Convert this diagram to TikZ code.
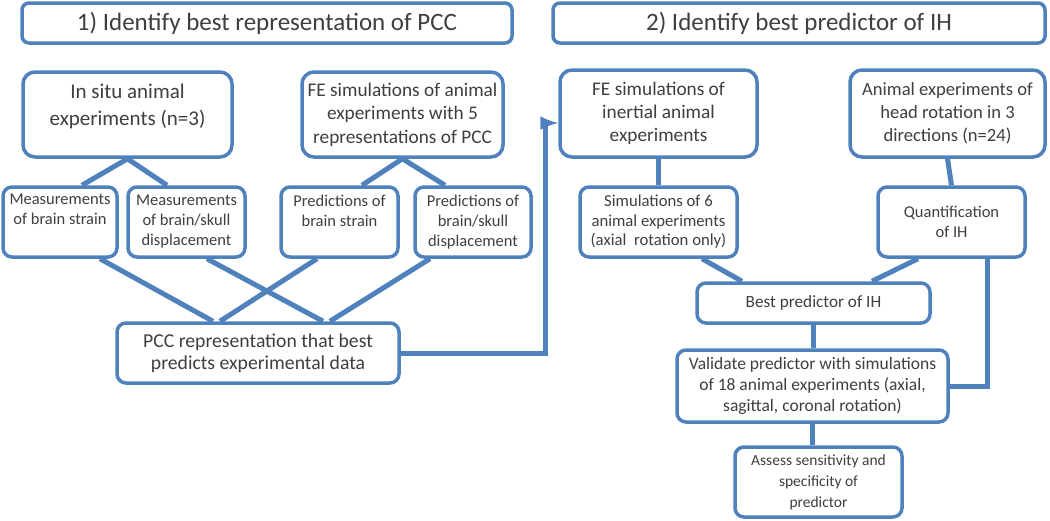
\documentclass[tikz,border=0pt]{standalone}
\usepackage{fontspec}
\setmainfont{Carlito}
\usepackage{tikz}
\usetikzlibrary{arrows,calc}
\definecolor{boxblue}{HTML}{4F81BD}
\definecolor{txtgray}{HTML}{3F3F3F}
\newcommand{\fsz}[2]{\fontsize{#1}{#2}\selectfont}

\begin{document}
\begin{tikzpicture}[x=1pt,y=-1pt,
  box/.style={draw=boxblue,line width=3.5pt,rounded corners=9pt,fill=white,
    text=txtgray,align=center,inner sep=1pt},
  titlebox/.style={box,rounded corners=7pt,font=\fsz{25}{29}},
  bigbox/.style={box,rounded corners=12pt,font=\fsz{19.3}{23.5}},
  smallbox/.style={box,rounded corners=9pt,font=\fsz{16.5}{20}},
  link/.style={draw=boxblue,line width=5pt}]
\useasboundingbox (0,0) rectangle (1050,520);

% 1) representation of PCC
\node[titlebox,minimum width=490pt,minimum height=40pt] (title1) at (267,23) {1) Identify best representation of PCC};
\node[bigbox,font=\fsz{21}{27},minimum width=209pt,minimum height=85pt] (insitu) at (127.5,114.5) {In situ animal\\experiments (n=3)\\[-8pt]\mbox{}};
\node[bigbox,minimum width=201pt,minimum height=85pt] (fesim) at (402.5,114.5) {FE simulations of animal\\experiments with 5\\representations of PCC};
\node[smallbox,minimum width=114pt,minimum height=70pt] (measstrain) at (60,222) {Measurements\\of brain strain\\\strut};
\node[smallbox,minimum width=117pt,minimum height=70pt] (measdisp) at (186.5,222) {Measurements\\of brain/skull\\displacement};
\node[smallbox,minimum width=117pt,minimum height=70pt] (predstrain) at (339.5,222) {Predictions of\\brain strain\\[-3pt]\strut};
\node[smallbox,minimum width=116pt,minimum height=70pt] (preddisp) at (473,222) {Predictions of\\brain/skull\\displacement};
\node[box,font=\fsz{19.7}{21.5},minimum width=282pt,minimum height=60pt] (pcc) at (258,353) {PCC representation that best\\predicts experimental data};

\draw[link] (insitu.south) -- ([xshift=22pt]measstrain.north);
\draw[link] (insitu.south) -- ([xshift=-19.5pt]measdisp.north);
\draw[link] (fesim.south) -- ([xshift=22.5pt]predstrain.north);
\draw[link] (fesim.south) -- ([xshift=-28pt]preddisp.north);
\draw[link] ([xshift=40pt]measstrain.south) -- ([xshift=-45pt]pcc.north);
\draw[link] ([xshift=20.5pt]measdisp.south) -- ([xshift=65pt]pcc.north);
\draw[link] ([xshift=-22.5pt]predstrain.south) -- ([xshift=-38pt]pcc.north);
\draw[link] ([xshift=-43pt]preddisp.south) -- ([xshift=72pt]pcc.north);

% 2) predictor of IH
\node[titlebox,minimum width=492pt,minimum height=40pt] (title2) at (799,23) {2) Identify best predictor of IH};
\node[bigbox,font=\fsz{19.3}{23},minimum width=197pt,minimum height=87pt] (feinert) at (658.5,113.5) {FE simulations of\\inertial animal\\experiments};
\node[bigbox,font=\fsz{18.6}{23.3},minimum width=195pt,minimum height=87pt] (animal) at (947.5,113.5) {Animal experiments of\\head rotation in 3\\directions (n=24)};
\node[smallbox,font=\fsz{16.7}{19.5},minimum width=157pt,minimum height=70pt] (simsix) at (658.5,222) {Simulations of 6\\animal experiments\\(axial\ \ rotation only)};
\node[smallbox,minimum width=147pt,minimum height=70pt] (quant) at (951.5,222) {Quantification\\of IH};
\node[smallbox,font=\fsz{17.2}{20},minimum width=233pt,minimum height=40pt] (best) at (813.5,303) {Best predictor of IH};
\node[smallbox,font=\fsz{17.5}{21},minimum width=271pt,minimum height=72pt] (valid) at (812.5,386) {Validate predictor with simulations\\of 18 animal experiments (axial,\\sagittal, coronal rotation)};
\node[smallbox,font=\fsz{15.5}{21},minimum width=167pt,minimum height=70pt] (assess) at (818.5,482) {Assess sensitivity and\\specificity of\\predictor};

\draw[link] (feinert.south) -- (simsix.north);
\draw[link] (animal.south) -- (quant.north);
\draw[link] ([xshift=43.5pt]simsix.south) -- ([xshift=-71.5pt]best.north);
\draw[link] ([xshift=-33.5pt]quant.south) -- ([xshift=58.5pt]best.north);
\draw[link] ([xshift=35.5pt]quant.south) |- (valid.east);
\draw[link] (best.south) -- (best.south |- valid.north);
\draw[link] (valid.south) -- (valid.south |- assess.north);

% link between the two parts
\coordinate (bend) at (545,123);
\draw[link,-latex] (pcc.east) -| (bend) -- (bend -| feinert.west);
\end{tikzpicture}
\end{document}
